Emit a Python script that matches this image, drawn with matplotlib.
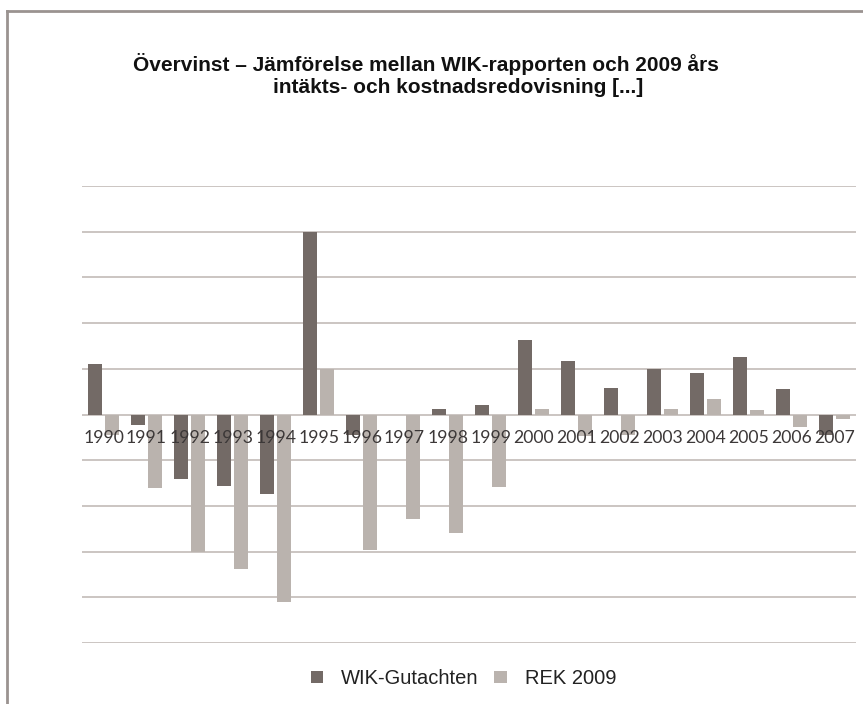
import numpy as np
import matplotlib
matplotlib.use('Agg')
import matplotlib.pyplot as plt
from matplotlib.lines import Line2D

years = ['1990', '1991', '1992', '1993', '1994', '1995', '1996', '1997', '1998',
         '1999', '2000', '2001', '2002', '2003', '2004', '2005', '2006', '2007']
wik = [1.1, -0.22, -1.4, -1.56, -1.74, 4.0, -0.45, 0.0, 0.12,
       0.2, 1.62, 1.18, 0.58, 1.0, 0.9, 1.26, 0.55, -0.45]
rek = [-0.45, -1.6, -3.0, -3.39, -4.11, 1.0, -2.97, -2.29, -2.6,
       -1.58, 0.12, -0.47, -0.45, 0.12, 0.33, 0.09, -0.28, -0.09]

dark = '#736a66'
light = '#bab3ae'
grid = '#c2bbb7'

fig = plt.figure(figsize=(8.63, 7.04), dpi=100)
ax = fig.add_axes([0.095, 0.0866, 0.897, 0.6492])

x = np.arange(len(years))
ax.bar(x - 0.2, wik, width=0.32, color=dark, zorder=2, label='WIK-Gutachten')
ax.bar(x + 0.2, rek, width=0.32, color=light, zorder=2, label='REK 2009')

ax.set_xlim(-0.5, len(years) - 0.5)
ax.set_ylim(-5, 5)
ax.set_yticks(np.arange(-5, 6))
ax.set_yticklabels([])
ax.set_xticks([])
ax.tick_params(length=0)
ax.yaxis.grid(True, color=grid, linewidth=1.2)
ax.set_axisbelow(True)
for s in ax.spines.values():
    s.set_visible(False)

# year labels sit right under the zero line, over the bars
for i, y in enumerate(years):
    ax.annotate(y, xy=(i, 0), xytext=(0, -11), textcoords='offset points',
                ha='center', va='top', fontsize=12.7, family='Lato',
                color='#3c3838', zorder=5)

fig.text(0.493, 0.909, 'Övervinst – Jämförelse mellan WIK-rapporten och 2009 års',
         ha='center', va='center', fontsize=15, fontweight='bold',
         family='Liberation Sans', color='#111111')
fig.text(0.531, 0.876, 'intäkts- och kostnadsredovisning [...]',
         ha='center', va='center', fontsize=15, fontweight='bold',
         family='Liberation Sans', color='#111111')

fig.legend(loc='center', bbox_to_anchor=(0.537, 0.036), ncol=2, frameon=False,
           prop={'family': 'Liberation Sans', 'size': 14.5}, handlelength=0.6,
           handleheight=0.6, columnspacing=0.8, handletextpad=0.9,
           labelcolor='#222222')

# frame lines at the top and left edge
fig.add_artist(Line2D([0.008, 1.0], [0.985, 0.985], color='#9a9390', linewidth=2))
fig.add_artist(Line2D([0.008, 0.008], [0.0, 0.985], color='#9a9390', linewidth=2))

fig.savefig('out.png', dpi=100, facecolor='white')
